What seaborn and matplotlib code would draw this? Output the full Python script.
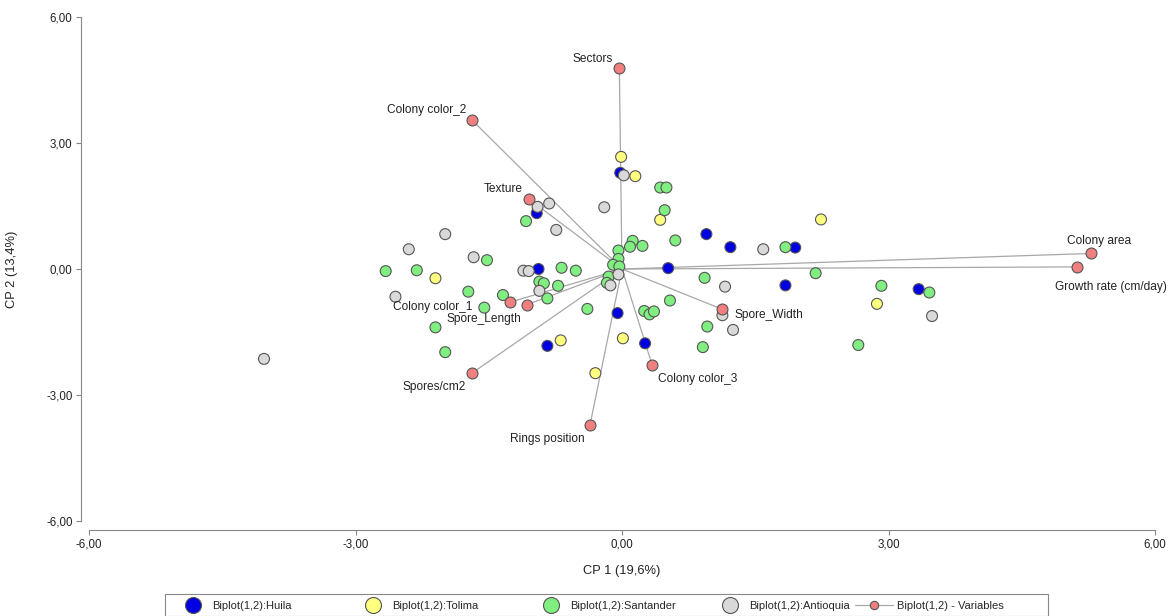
import numpy as np
import pandas as pd
import matplotlib
matplotlib.use("Agg")
import matplotlib.pyplot as plt
from matplotlib.lines import Line2D
from matplotlib.patches import Rectangle
from matplotlib.ticker import FuncFormatter
import seaborn as sns

# Principal component scores per isolate, grouped by department
huila_x = [-0.02, -0.96, -0.94, 0.52, 0.95, 1.22, 1.95, 1.84, 3.34, -0.05, -0.84, 0.26]
huila_y = [2.29, 1.33, 0.00, 0.02, 0.83, 0.52, 0.51, -0.39, -0.48, -1.05, -1.83, -1.77]

tolima_x = [-0.01, 0.15, 0.43, 2.24, -2.10, 2.87, -0.69, 0.01, -0.30]
tolima_y = [2.67, 2.21, 1.17, 1.18, -0.22, -0.83, -1.70, -1.65, -2.48]

santander_x = [0.43, 0.50, 0.48, -1.08, 0.12, 0.09, 0.23, 0.60, -0.04, -0.04,
               -0.10, -0.03, -0.15, -0.17, -0.68, -0.52, -1.52, -2.66, -2.31, -1.73,
               -1.34, -0.93, -0.88, -0.72, -0.84, -1.55, -0.39, -2.10, -1.99, 0.54,
               0.93, 0.96, 0.91, 0.25, 0.31, 0.36, 1.84, 2.18, 2.92, 3.46, 2.66]
santander_y = [1.94, 1.94, 1.40, 1.14, 0.67, 0.53, 0.55, 0.68, 0.44, 0.24,
               0.10, 0.06, -0.18, -0.33, 0.03, -0.04, 0.21, -0.05, -0.03, -0.54,
               -0.62, -0.30, -0.34, -0.40, -0.70, -0.92, -0.95, -1.39, -1.98, -0.75,
               -0.21, -1.37, -1.86, -1.00, -1.08, -1.01, 0.52, -0.10, -0.40, -0.56, -1.81]

antioquia_x = [0.02, -0.95, -0.82, -0.20, -0.74, -1.99, -2.40, -1.67, -1.11, -1.05,
               -0.93, -0.04, -0.13, 1.59, 1.16, 1.13, 1.25, 3.49, -2.55, -4.03]
antioquia_y = [2.23, 1.48, 1.56, 1.47, 0.93, 0.83, 0.47, 0.28, -0.04, -0.05,
               -0.52, -0.13, -0.39, 0.47, -0.42, -1.10, -1.45, -1.12, -0.66, -2.14]

# Variable loadings (vector end points)
var_names = ["Sectors", "Colony color_2", "Texture", "Colony color_1", "Spore_Length",
             "Spores/cm2", "Rings position", "Colony color_3", "Spore_Width",
             "Colony area", "Growth rate (cm/day)"]
var_x = [-0.03, -1.69, -1.05, -1.26, -1.07, -1.69, -0.36, 0.34, 1.13, 5.28, 5.12]
var_y = [4.78, 3.55, 1.67, -0.79, -0.85, -2.48, -3.71, -2.29, -0.96, 0.37, 0.05]

groups = ["Huila", "Tolima", "Santander", "Antioquia"]
x_ticks = [-6, -3, 0, 3, 6]
y_ticks = [-6, -3, 0, 3, 6]

# label placement for each variable: (dx, dy) in points, horizontal alignment
label_pos = {
    "Sectors": (-19, 2.5, "center"),
    "Colony color_2": (-4, 3, "right"),
    "Texture": (-4, 3, "right"),
    "Colony color_1": (-27, -7.5, "right"),
    "Spore_Length": (-4, -14.5, "right"),
    "Spores/cm2": (-4, -14.5, "right"),
    "Rings position": (-4, -14.5, "right"),
    "Colony color_3": (4, -14.5, "left"),
    "Spore_Width": (9, -8.5, "left"),
    "Colony area": (-17, 5, "left"),
    "Growth rate (cm/day)": (-16, -19, "left"),
}

palette = {"Huila": "#0000E0", "Tolima": "#FFFF80",
           "Santander": "#80EE80", "Antioquia": "#D9D9D9"}
var_color = "#F08080"
edge = "#555555"
axis_gray = "#888888"

df = pd.concat([
    pd.DataFrame({"x": huila_x, "y": huila_y, "group": "Huila"}),
    pd.DataFrame({"x": tolima_x, "y": tolima_y, "group": "Tolima"}),
    pd.DataFrame({"x": santander_x, "y": santander_y, "group": "Santander"}),
    pd.DataFrame({"x": antioquia_x, "y": antioquia_y, "group": "Antioquia"}),
], ignore_index=True)
vars_df = pd.DataFrame({"name": var_names, "x": var_x, "y": var_y})

sns.set_style("white")
plt.rcParams["font.family"] = ["Liberation Sans", "DejaVu Sans"]

W, H = 1169, 616
fig = plt.figure(figsize=(W / 100, H / 100), dpi=100)
ax = fig.add_axes([89 / W, 1 - 521 / H, (1155 - 89) / W, (521 - 17) / H])

# vectors from the origin to each variable
for _, r in vars_df.iterrows():
    ax.plot([0, r.x], [0, r.y], color="#A8A8A8", lw=0.9, zorder=1)

sns.scatterplot(data=df, x="x", y="y", hue="group", hue_order=groups,
                palette=palette, s=62, edgecolor=edge, linewidth=0.8,
                legend=False, ax=ax, zorder=3)
sns.scatterplot(data=vars_df, x="x", y="y", color=var_color, s=62,
                edgecolor=edge, linewidth=0.8, legend=False, ax=ax, zorder=4)

for _, r in vars_df.iterrows():
    dx, dy, ha = label_pos[r["name"]]
    ax.annotate(r["name"], (r.x, r.y), xytext=(dx, dy), textcoords="offset points",
                ha=ha, va="bottom", fontsize=8.6, color="#222222")

ax.set_xlim(-6, 6)
ax.set_ylim(-6, 6)
ax.set_xticks(x_ticks)
ax.set_yticks(y_ticks)
fmt = FuncFormatter(lambda v, p: f"{v:.2f}".replace(".", ","))
ax.xaxis.set_major_formatter(fmt)
ax.yaxis.set_major_formatter(fmt)
ax.tick_params(axis="both", length=3.5, width=0.8, color=axis_gray, pad=2.5,
               labelsize=8.3, labelcolor="#222222", direction="out",
               bottom=True, left=True)
ax.set_xlabel("CP 1 (19,6%)", fontsize=9.3, color="#222222")
ax.set_ylabel("CP 2 (13,4%)", fontsize=9.3, color="#222222")
ax.xaxis.set_label_coords(0.5, (521 - 565) / (521 - 17))
ax.yaxis.set_label_coords((18 - 89) / (1155 - 89), 0.5)

for side in ["top", "right"]:
    ax.spines[side].set_visible(False)
ax.spines["left"].set_position(("outward", 5.8))
ax.spines["bottom"].set_position(("outward", 6.5))
for side in ["left", "bottom"]:
    ax.spines[side].set_color(axis_gray)
    ax.spines[side].set_linewidth(0.8)

# legend: one frame, five evenly placed entries
fig.add_artist(Rectangle((165 / W, 0), (1048 - 165) / W, 1 - 594 / H,
                         transform=fig.transFigure, facecolor="white",
                         edgecolor=axis_gray, lw=0.8))
legend_y = 1 - 606 / H
entries = []
for g, start in zip(groups, [182, 362, 540, 719]):
    h = Line2D([], [], marker="o", ls="none", markersize=11.5,
               markerfacecolor=palette[g], markeredgecolor=edge,
               markeredgewidth=0.8, label=f"Biplot(1,2):{g}")
    entries.append((h, start, 2.0, 0.75))
hv = Line2D([], [], marker="o", color="#A8A8A8", lw=0.9, markersize=6,
            markerfacecolor=var_color, markeredgecolor=edge,
            markeredgewidth=0.8, label="Biplot(1,2) - Variables")
entries.append((hv, 855, 3.45, 0.35))
for h, start, hl, hp in entries:
    fig.legend(handles=[h], loc="center left", bbox_to_anchor=(start / W, legend_y),
               frameon=False, fontsize=8, handlelength=hl, handletextpad=hp,
               borderpad=0, borderaxespad=0)

fig.savefig("out.png", dpi=100)
